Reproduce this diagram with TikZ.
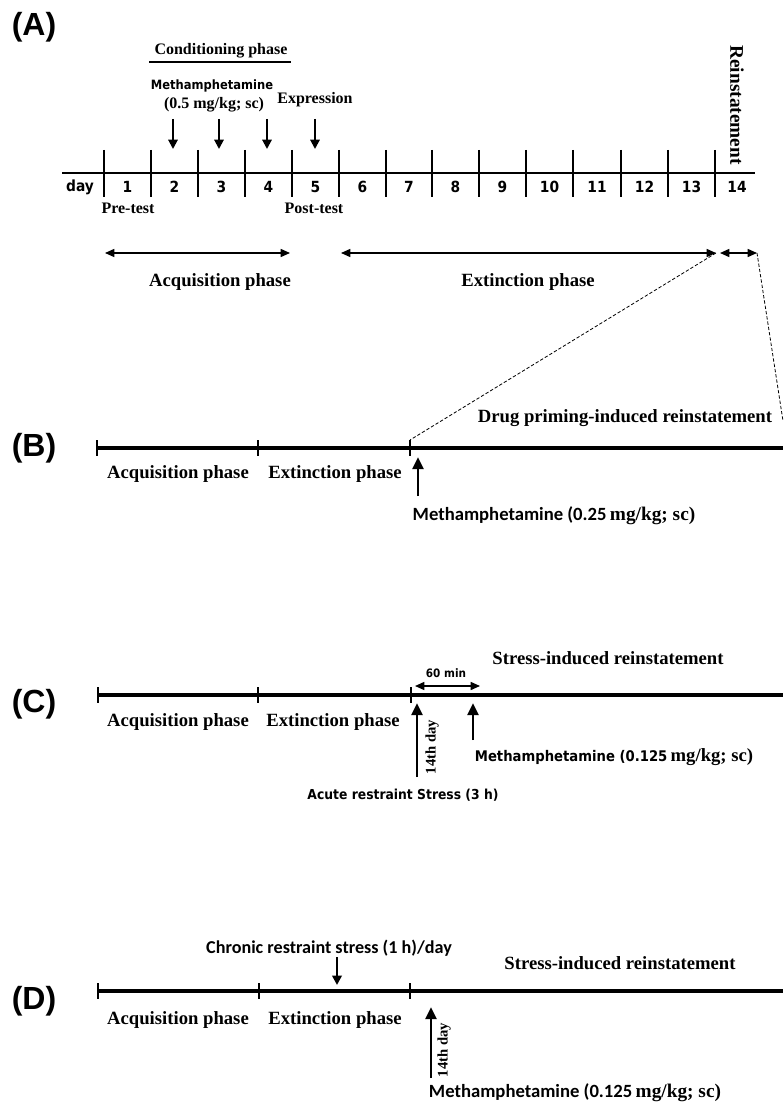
\documentclass[tikz,border=0pt]{standalone}
\usepackage{fontspec}
\setmainfont{Liberation Serif}
\newfontfamily\arialf{Liberation Sans}
\newfontfamily\tahf{DejaVu Sans}[FakeStretch=0.9]
\newfontfamily\calf{Carlito}
\usetikzlibrary{arrows.meta}
\newcommand{\fs}[1]{\fontsize{#1}{#1}\selectfont}
\tikzset{
  panel/.style={font=\arialf\bfseries\fs{24}, inner sep=0},
  ser/.style={font=\bfseries\fs{14}, inner sep=0},
  sers/.style={font=\bfseries\fs{12}, inner sep=0},
  tah/.style={font=\tahf\bfseries\fs{10.3}, inner sep=0},
  cal/.style={font=\calf\bfseries\fs{13.6}, inner sep=0},
  thinline/.style={line width=1.2pt},
  thickline/.style={line width=2.8pt},
  endtick/.style={line width=2.2pt},
  downarrow/.style={line width=1.5pt, -{Triangle[length=7pt,width=7pt]}},
  uparrow/.style={line width=2.2pt, -{Triangle[length=9pt,width=8pt]}},
  dblarrow/.style={line width=1.1pt, {Triangle[length=7pt,width=6pt]}-{Triangle[length=7pt,width=6pt]}},
  dashline/.style={line width=0.6pt, dash pattern=on 2.5pt off 1.5pt},
}
\begin{document}
\begin{tikzpicture}[x=0.75pt,y=-0.75pt]
\useasboundingbox[fill=white] (0,0) rectangle (783,1102);

% ---------------- (A) ----------------
\node[panel] (lA) at (34,27) {(A)};
\node[sers] (cond) at (221,51) {Conditioning phase};
\coordinate (ulL) at (149,62);
\coordinate (ulR) at (291,62);
\draw[line width=0.9pt] (ulL) -- (ulR);
\node[font=\tahf\bfseries\fs{9.6}, inner sep=0] (methA) at (212,86) {Methamphetamine};
\node[sers] (doseA) at (214,105) {(0.5 mg/kg; sc)};
\node[sers] (expr) at (315,100) {Expression};

\foreach \n/\x in {1/173,2/219,3/267,4/315}{
  \coordinate (ds\n) at (\x,119);
  \coordinate (de\n) at (\x,149);
  \draw[downarrow] (ds\n) -- (de\n);
}

\coordinate (tlL) at (62,173);
\coordinate (tlR) at (755,173);
\draw[thinline] (tlL) -- (tlR);
\foreach \x [count=\i] in {104,151,198,245,292,339,386,432,479,526,573,621,668,715}{
  \coordinate (tt\i) at (\x,150);
  \coordinate (tb\i) at (\x,197);
  \draw[thinline] (tt\i) -- (tb\i);
}
\node[font=\tahf\bfseries\fs{11.5}, inner sep=0] (dayl) at (80,187) {day};
\foreach \d/\x in {1/127.5,2/174.5,3/221.5,4/268.5,5/315.5,6/362.5,7/409,8/455.5,9/502.5,10/549.5,11/597,12/644.5,13/691.5,14/737}{
  \node[font=\tahf\bfseries\fs{11.5}, inner sep=0] (d\d) at (\x,187) {\d};
}
\node[sers] (pre) at (128,208) {Pre-test};
\node[sers] (post) at (314,208) {Post-test};
\node[font=\bfseries\fs{14.5}, inner sep=0, rotate=-90] (reinst) at (737,105) {Reinstatement};

\coordinate (acqL) at (105,253);
\coordinate (acqR) at (290,253);
\coordinate (extL) at (341,253);
\coordinate (extR) at (716,253);
\coordinate (reL) at (720,253);
\coordinate (reR) at (757,253);
\draw[dblarrow] (acqL) -- (acqR);
\draw[dblarrow] (extL) -- (extR);
\draw[dblarrow] (reL) -- (reR);
\node[ser] (acqA) at (220,282) {Acquisition phase};
\node[ser] (extA) at (528,282) {Extinction phase};

% ---------------- (B) ----------------
\node[panel] (lB) at (34,448) {(B)};
\coordinate (b0) at (97,448);
\coordinate (b1) at (258,448);
\coordinate (b2) at (410,448);
\coordinate (bE) at (783,448);
\draw[thickline] (b0) -- (bE);
\foreach \c in {b0,b1,b2}{ \draw[endtick] ([yshift=8*0.75pt]\c) -- ([yshift=-8*0.75pt]\c); }
\coordinate (bTop) at (410,440);
\coordinate (dR) at (783,421);
\draw[dashline] (extR) -- (bTop);
\draw[dashline] (reR) -- (dR);
\node[ser] (drug) at (625,418) {Drug priming-induced reinstatement};
\node[ser] (acqB) at (178,474) {Acquisition phase};
\node[ser] (extB) at (335,474) {Extinction phase};
\coordinate (bas) at (418,496);
\coordinate (bae) at (418,457);
\draw[uparrow] (bas) -- (bae);
\node[inner sep=0] (methB) at (554,516) {{\calf\bfseries\fs{14}Methamphetamine (0.25} {\bfseries\fs{14.5}mg/kg; sc)}};

% ---------------- (C) ----------------
\node[panel] (lC) at (34,704) {(C)};
\coordinate (c0) at (98,695);
\coordinate (c1) at (258,695);
\coordinate (c2) at (411,695);
\coordinate (cE) at (783,695);
\draw[thickline] (c0) -- (cE);
\foreach \c in {c0,c1,c2}{ \draw[endtick] ([yshift=8*0.75pt]\c) -- ([yshift=-8*0.75pt]\c); }
\node[ser] (acqC) at (178,722) {Acquisition phase};
\node[ser] (extC) at (333,722) {Extinction phase};
\node[ser] (stressC) at (608,658) {Stress-induced reinstatement};
\node[font=\tahf\bfseries\fs{8.7}, inner sep=0] (sixty) at (446,673) {60 min};
\coordinate (sxL) at (415,686);
\coordinate (sxR) at (480,686);
\draw[dblarrow] (sxL) -- (sxR);
\coordinate (ca1s) at (417,777);
\coordinate (ca1e) at (417,703);
\draw[uparrow] (ca1s) -- (ca1e);
\coordinate (ca2s) at (473,740);
\coordinate (ca2e) at (473,703);
\draw[uparrow] (ca2s) -- (ca2e);
\node[font=\bfseries\fs{11}, inner sep=0, rotate=90] (dayC) at (432,747) {14th day};
\node[inner sep=0] (methC) at (614,757) {{\tahf\bfseries\fs{11}Methamphetamine (0.125} {\bfseries\fs{14}mg/kg; sc)}};
\node[tah] (acute) at (403,795) {Acute restraint Stress (3 h)};

% ---------------- (D) ----------------
\node[panel] (lD) at (34,1001) {(D)};
\coordinate (e0) at (98,991);
\coordinate (e1) at (259,991);
\coordinate (e2) at (410,991);
\coordinate (eE) at (783,991);
\draw[thickline] (e0) -- (eE);
\foreach \c in {e0,e1,e2}{ \draw[endtick] ([yshift=8*0.75pt]\c) -- ([yshift=-8*0.75pt]\c); }
\node[cal] (chronic) at (329,948) {Chronic restraint stress (1 h)/day};
\coordinate (das) at (337,957);
\coordinate (dae) at (337,985);
\draw[downarrow, line width=2pt] (das) -- (dae);
\node[ser] (stressD) at (620,963) {Stress-induced reinstatement};
\node[ser] (acqD) at (178,1020) {Acquisition phase};
\node[ser] (extD) at (335,1020) {Extinction phase};
\coordinate (dus) at (431,1078);
\coordinate (due) at (431,1007);
\draw[uparrow] (dus) -- (due);
\node[font=\bfseries\fs{11}, inner sep=0, rotate=90] (dayD) at (444,1050) {14th day};
\node[inner sep=0] (methD) at (575,1093) {{\calf\bfseries\fs{14}Methamphetamine (0.125} {\bfseries\fs{14.5}mg/kg; sc)}};
\end{tikzpicture}
\end{document}
